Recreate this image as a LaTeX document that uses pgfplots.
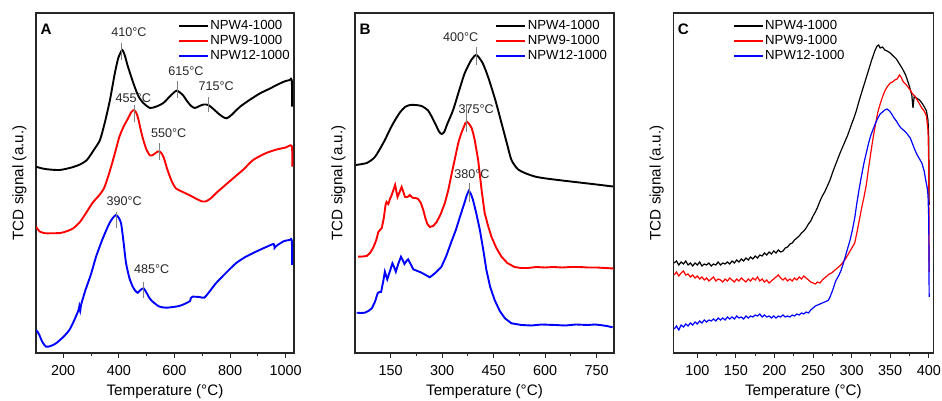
\documentclass[border=0pt]{standalone}
\usepackage{fontspec}
\setmainfont{Liberation Sans}
\usepackage{pgfplots}
\pgfplotsset{compat=1.18}
\newcommand\fs[2]{\fontsize{#1}{#2}\selectfont}

\pgfplotsset{
  tpr/.style={
    scale only axis, height=170pt,
    ymin=47, ymax=387, ytick=\empty,
    axis line style={line width=0.6pt, black!85},
    tick align=outside, xtick pos=left,
    minor x tick num=1,
    major tick length=2.6pt, minor tick length=1.5pt,
    every tick/.style={black!85, line width=0.5pt},
    tick label style={font=\fs{7.2}{8}},
    /pgf/number format/assume math mode=true,
    /pgf/number format/1000 sep={},
    xlabel={Temperature (°C)}, ylabel={TCD signal (a.u.)},
    label style={font=\fs{7.6}{9}},
    xlabel style={at={(axis description cs:0.5,0)}, anchor=center, yshift=-19.5pt},
    ylabel style={at={(axis description cs:-0.064,0.5)}, anchor=center},
    legend style={draw=none, fill=none, font=\fs{6.6}{7.5}, inner sep=0pt,
                  row sep=0pt, legend cell align=left,
                  nodes={inner sep=0.7pt}},
    legend image code/.code={\draw[#1] (0pt,0pt) -- (14.5pt,0pt);},
  },
}
\tikzset{
  ann/.style={anchor=base, inner sep=0pt, font=\fs{6.3}{7.5}, text=black!85},
  pk/.style={gray, line width=0.5pt},
  lett/.style={anchor=north west, inner sep=0pt, font=\bfseries\fs{7.6}{9}},
}

\begin{document}
\begin{tikzpicture}
\path[use as bounding box] (-18pt,-24pt) rectangle (453pt,176.5pt);

% ---------------- A ----------------
\begin{axis}[tpr, at={(0pt,0pt)}, width=129pt,
  xmin=102, xmax=1030, xtick={200,400,...,1000},
  legend style={at={(axis description cs:0.99,0.985)}, anchor=north east}]
\addplot[black, line width=0.95pt, smooth, tension=0.4] coordinates {
 (102,233.3) (125,231.5) (150,230.5) (188,230) (230,232.5) (260,235.5) (285,240)
 (310,250) (332,260) (350,278) (368,300) (385,326) (398,342) (412,350)
 (422,344) (432,334) (452,317) (470,304) (488,297) (512,292) (535,293.5)
 (560,297) (585,304) (608,309.3) (630,305) (645,299) (660,294) (674,292)
 (690,294) (705,295.5) (722,295) (740,291) (760,286) (775,283) (788,281.7)
 (805,285) (836,293.3) (870,300) (908,306.7) (940,311) (968,315) (995,318.5)
 (1015,320) (1022,320) (1023.5,293.3)};
\addplot[red, line width=0.95pt, smooth, tension=0.4] coordinates {
 (102,173.3) (116,168.3) (135,166.8) (150,166.7) (190,167) (215,169) (236,171.7)
 (260,178) (282,187) (305,197) (330,205) (347,212) (362,224) (375,236)
 (390,251) (402,263.3) (418,274) (430,280) (445,288) (455,290) (463,287)
 (470,281) (478,271) (488,260) (500,250) (512,244.5) (522,245) (530,246.5)
 (540,248.5) (548,248.3) (555,246) (562,242) (575,230) (590,219) (605,211.7)
 (630,208) (653,205) (680,201) (700,198.5) (712,198.5) (730,201.5) (749,206.7)
 (775,213) (797,218.3) (825,225) (850,231) (883,240) (930,247) (968,250.5)
 (1000,252.5) (1022,254) (1024,233.3)};
\addplot[blue, line width=0.95pt, smooth, tension=0.4] coordinates {
 (102,70) (108,68) (114,65) (125,58) (138,53.3) (155,54) (174,56.7) (200,63)
 (222,70) (240,80) (255,90) (258,94) (261,89) (264,95) (280,110) (300,126)
 (318,143.3) (340,160) (355,170) (366,176.7) (378,182) (390,185) (400,182)
 (408,176.7) (416,160) (426,136.7) (438,122) (450,113.3) (460,109) (468,107.3)
 (478,110) (489,111.7) (498,108) (510,102) (522,98.3) (545,93.5) (569,92.3)
 (595,93) (617,94) (640,96.5) (656,99) (659,102) (665,103.3) (690,103) (707,102.3)
 (725,108) (749,116.7) (785,127) (821,136.7) (855,143) (893,148.3) (930,153)
 (957,156) (960,152) (963,153) (971,155) (995,159) (1015,160) (1022,160) (1023.5,135)};
\legend{NPW4-1000, NPW9-1000, NPW12-1000}
\draw[pk] (axis cs:410,340) -- (axis cs:410,357);
\node[ann] at (axis cs:436,363) {410°C};
\draw[pk] (axis cs:611,302) -- (axis cs:611,319);
\node[ann] at (axis cs:641,324) {615°C};
\draw[pk] (axis cs:724,288) -- (axis cs:724,303);
\node[ann] at (axis cs:750,309) {715°C};
\draw[pk] (axis cs:455,278) -- (axis cs:455,295);
\node[ann] at (axis cs:452,297.7) {455°C};
\draw[pk] (axis cs:548,240) -- (axis cs:548,257);
\node[ann] at (axis cs:579,262) {550°C};
\draw[pk] (axis cs:392,172) -- (axis cs:392,188);
\node[ann] at (axis cs:419,194) {390°C};
\draw[pk] (axis cs:490,102) -- (axis cs:490,118);
\node[ann] at (axis cs:518,126) {485°C};
\node[lett] at (rel axis cs:0.016,0.97) {A};
\end{axis}

% ---------------- B ----------------
\begin{axis}[tpr, at={(159.5pt,0pt)}, width=129.5pt,
  xmin=46, xmax=801, xtick={150,300,...,750},
  legend style={at={(axis description cs:0.98,0.985)}, anchor=north east}]
\addplot[black, line width=0.95pt, smooth, tension=0.4] coordinates {
 (48,235) (80,237) (104,243) (130,258) (150,272) (163,280) (178,288) (192,293)
 (206,295) (221,295) (240,294) (260,289) (279,277) (290,269) (298,266) (306,268)
 (315,276) (332,290) (350,310) (366,327) (385,340) (400,345) (418,337) (434,323)
 (455,300) (473,277) (490,255) (502,240) (520,231) (541,227) (570,223.5)
 (599,221.7) (650,219.5) (700,217.5) (750,215.5) (798,213.5)};
\addplot[red, line width=0.95pt] coordinates {
 (55,143.3) (68,143.5) (80,144) (90,147) (100,153) (108,160) (114,168) (119,170)
 (124,172) (130,182) (135,195) (138,198) (143,196) (148,201) (153,205) (158,210)
 (163,215) (167,208) (170,203) (176,208) (182,213) (187,208) (192,203) (199,203)
 (206,205) (211,203) (216,202) (223,202) (230,201) (238,197) (245,190) (251,182)
 (257,176) (264,173) (274,174) (284,178) (296,186) (308,197) (318,210) (327,225)
 (337,241) (347,257) (355,266) (362,272) (368,277) (373,278) (379,276) (386,272)
 (391,266) (395,260) (400,250) (405,240) (410,225) (415,210) (420,197) (424,187)
 (434,174) (444,163) (458,152) (473,143.3) (490,137) (511,133) (530,132) (550,132)
 (575,133) (600,132.5) (625,133) (650,132.5) (675,133) (700,133) (725,132.5)
 (750,132.5) (775,132) (800,131.5)};
\addplot[blue, line width=0.95pt] coordinates {
 (51,87.3) (63,87) (75,87.3) (85,89) (95,91.7) (104,98) (112,106.7) (117,108)
 (122,108) (128,118) (133,128.3) (137,124) (140,120.7) (147,128) (155,136.7)
 (160,133) (165,128.3) (172,136) (180,143.3) (185,140) (190,136) (196,139)
 (201,140.7) (208,136) (216,130.7) (228,129) (240,127.3) (252,125) (264,122.7)
 (280,127) (298,133.3) (312,144) (327,158.3) (340,170) (352,183.3) (365,197)
 (372,205) (378,209.3) (384,206) (390,200) (400,186) (410,170) (420,150)
 (429,130) (440,113) (453,100) (468,89) (483,81.7) (502,76.7) (531,75) (560,74.5)
 (590,75.5) (628,75) (660,74.5) (690,75.5) (725,75) (745,75.5) (760,75) (780,74)
 (797,72.7)};
\legend{NPW4-1000, NPW9-1000, NPW12-1000}
\draw[pk] (axis cs:400,335) -- (axis cs:400,353);
\node[ann] at (axis cs:354,358.3) {400°C};
\draw[pk] (axis cs:371,268) -- (axis cs:371,295);
\node[ann] at (axis cs:399,286.7) {375°C};
\draw[pk] (axis cs:380,198) -- (axis cs:380,217);
\node[ann] at (axis cs:387,221.7) {380°C};
\node[lett] at (rel axis cs:0.016,0.97) {B};
\end{axis}

% ---------------- C ----------------
\begin{axis}[tpr, at={(318.7pt,0pt)}, width=130pt,
  xmin=69, xmax=406, xtick={100,150,...,400},
  legend style={at={(axis description cs:0.23,0.985)}, anchor=north west}]
\addplot[black, line width=0.6pt] coordinates {
 (70,137) (73,139) (76,135) (79,138) (82,136) (85,139) (88,135) (91,137) (94,134)
 (97,137) (100,135) (103,138) (106,134) (109,136) (112,135) (115,137) (118,134)
 (121,136) (124,135) (127,138) (130,135) (133,137) (136,136) (139,138) (142,136)
 (145,139) (148,137) (151,140) (154,138) (157,141) (160,139) (163,142) (166,140)
 (169,143) (172,141) (175,144) (178,142) (181,145) (184,144) (187,147) (190,145)
 (193,148) (196,146) (199,149) (202,147) (205,150) (208,148) (211,149) (214,152)
 (217,153) (220,156) (223,157) (226,160) (229,162) (232,164) (235,167) (238,169)
 (241,172) (244,176) (247,179) (250,184) (253,188) (256,193) (259,199) (262,204)
 (265,208) (268,213) (272,220) (276,229) (280,237) (285,247) (290,256) (295,265)
 (300,276) (303,282) (306,289) (310,300) (314,310) (318,320) (322,330) (326,340)
 (330,349) (333,354) (335,355) (337,352) (340,353) (343,350) (346,349) (350,347)
 (354,344) (358,341) (362,336) (366,331) (370,325) (374,316) (378,305) (379.5,292)
 (381,303) (384,302) (388,300) (392,296) (395,292) (397,289) (399,280) (400,260)
 (400.5,195)};
\addplot[red, line width=0.6pt] coordinates {
 (70,125) (73,128) (76,124) (79,127) (82,129) (85,125) (88,126) (91,123) (94,125)
 (97,122) (100,124) (103,121) (106,123) (109,120) (112,122) (115,119) (118,121)
 (121,123) (124,119) (127,121) (130,120) (133,118) (136,121) (139,119) (142,122)
 (145,120) (148,118) (151,121) (154,119) (157,122) (160,120) (163,118) (166,121)
 (169,119) (172,122) (175,120) (178,123) (181,119) (184,121) (187,118) (190,120)
 (193,117) (196,119) (199,121) (202,123) (205,125) (208,122) (211,120) (214,122)
 (217,119) (220,121) (223,119) (226,122) (229,120) (232,123) (235,121) (238,124)
 (241,122) (244,120) (247,118) (250,117) (253,116) (256,118) (259,117) (262,120)
 (265,122) (268,124) (271,126) (274,127) (277,129) (280,131) (283,133) (286,135)
 (289,138) (292,141) (295,145) (298,149) (301,153) (304,157) (307,168) (310,180)
 (313,192) (316,203) (319,215) (322,232) (325,248) (328,263) (331,276) (334,288)
 (337,296) (340,303) (343,309) (346,313) (350,317) (353,318) (356,320) (359,321)
 (362,325) (364,323) (367,318) (370,316) (373,313) (376,310) (379,306) (382,304)
 (385,300) (388,296) (391,292) (394,289) (397,284) (399,270) (400,235)
 (400.3,150) (400.5,128)};
\addplot[blue, line width=0.6pt] coordinates {
 (70,71) (73,74) (76,70) (79,75) (82,73) (85,76) (88,74) (91,77) (94,75) (97,78)
 (100,76) (103,79) (106,77) (109,80) (112,78) (115,80) (118,79) (121,81) (124,79)
 (127,82) (130,80) (133,82) (136,80) (139,83) (142,81) (145,83) (148,81) (151,84)
 (154,82) (157,83) (160,81) (163,84) (166,82) (169,84) (172,83) (175,85) (178,84)
 (181,86) (184,83) (187,85) (190,83) (193,84) (196,82) (199,84) (202,82) (205,84)
 (208,83) (211,85) (214,83) (217,84) (220,83) (223,85) (226,84) (229,86) (232,85)
 (235,87) (238,86) (241,88) (244,87) (247,90) (250,92) (253,94) (256,95) (259,96)
 (262,97) (265,98) (268,99) (270,100) (272,103) (274,107) (276,111) (278,116)
 (280,120) (283,124) (286,129) (289,136) (292,144) (295,152) (298,160) (301,170)
 (304,182) (307,198) (310,212) (313,225) (316,237) (319,247) (322,257) (325,265)
 (328,271) (331,277) (334,282) (337,286) (340,288) (343,290) (346,291) (349,289)
 (352,286) (355,282) (358,279) (361,275) (364,272) (367,270) (370,268) (373,265)
 (376,262) (379,256) (382,250) (385,245) (388,241) (391,237) (394,229) (396,220)
 (398,212) (399,205) (400,180) (400.3,130) (400.5,103)};
\legend{NPW4-1000, NPW9-1000, NPW12-1000}
\node[lett] at (rel axis cs:0.016,0.97) {C};
\end{axis}
\end{tikzpicture}
\end{document}
